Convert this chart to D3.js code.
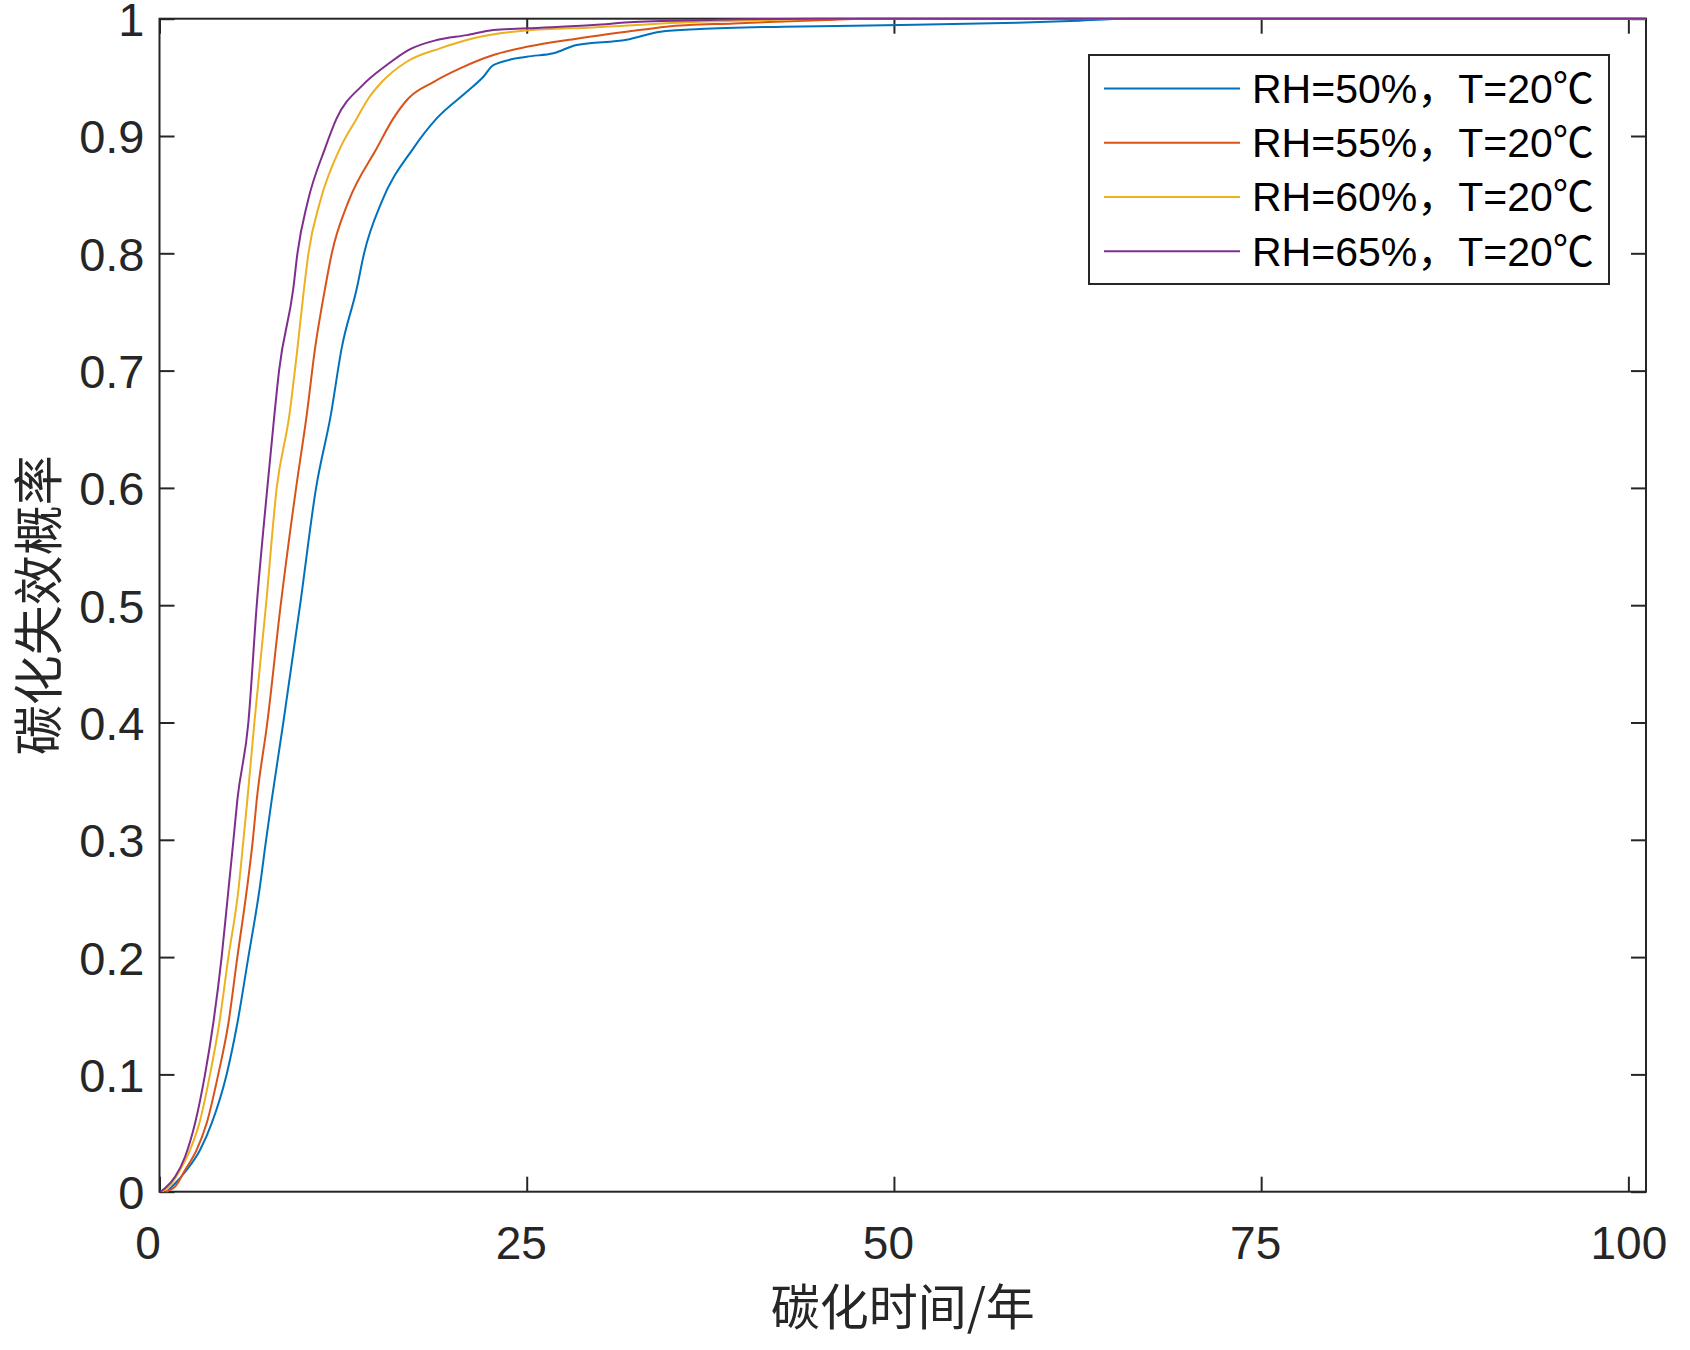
<!DOCTYPE html>
<html>
<head>
<meta charset="utf-8">
<script src="https://cdn.jsdelivr.net/npm/d3@7"></script>
<style>
  html, body { margin: 0; padding: 0; background: #fff; }
  svg { display: block; }
</style>
</head>
<body>
<svg id="chart" width="1690" height="1350"></svg>
<script>
// ---- data ----
const seriesNames = ["RH=50%，T=20℃", "RH=55%，T=20℃", "RH=60%，T=20℃", "RH=65%，T=20℃"];
const seriesColors = ["#0072BD", "#D95319", "#EDB120", "#7E2F8E"];

const rh50_x = [0.5,1.06,1.85,2.76,3.55,4.57,5.3,6.05,6.8,7.25,7.64,8.43,9.57,10.66,11.66,12.4,13.43,13.93,15.13,17.28,18.87,20.92,22.05,22.73,25,26.82,28.4,31.8,34.1,36.8,42.5,50.4,58.4,62,66,101.2];
const rh50_p = [0,0.007,0.0185,0.0356,0.0583,0.1,0.1436,0.2,0.257,0.2993,0.334,0.4,0.5,0.6,0.662,0.719,0.770,0.80,0.844,0.8895,0.915,0.9377,0.9505,0.9605,0.9676,0.9705,0.9776,0.982,0.9889,0.9912,0.9932,0.9946,0.9966,0.998,1,1];

const rh55_x = [0.4,1.06,1.74,2.53,3.21,4.0,4.69,5.3,5.94,6.35,6.62,7.34,8.25,9.3,10.02,10.59,11.27,11.73,12.86,14.79,15.92,16.94,18.65,20.46,22.73,25,28.4,31.8,34.5,39.1,45.4,48,101.2];
const rh55_p = [0,0.0043,0.0185,0.0356,0.0583,0.1,0.1436,0.2,0.257,0.2993,0.334,0.4,0.5,0.6,0.662,0.719,0.770,0.80,0.844,0.8895,0.915,0.932,0.946,0.9576,0.969,0.976,0.983,0.9889,0.9932,0.996,0.9989,1,1];

const rh60_x = [0.2,0.83,1.4,2.08,2.71,3.44,4.07,4.69,5.37,5.71,5.98,6.46,7.25,7.98,8.84,9.39,9.84,10.14,10.93,12.29,13.43,14.22,15.13,16.83,19.1,20.92,23.19,25,29.5,36,42,45,101.2];
const rh60_p = [0,0.0071,0.0185,0.0356,0.0583,0.1,0.1436,0.2,0.257,0.2993,0.334,0.4,0.5,0.6,0.662,0.719,0.770,0.80,0.844,0.8895,0.915,0.932,0.946,0.9633,0.9747,0.9818,0.9875,0.990,0.9926,0.997,0.999,1,1];

const rh65_x = [0.05,0.37,1.06,1.74,2.42,3.1,3.66,4.23,4.69,5.03,5.3,6.05,6.62,7.34,7.82,8.14,9.11,9.39,10.09,11.27,12.06,13.83,15.47,16.94,18.87,20.92,22.73,25,29.54,32.3,38,44.75,101.2];
const rh65_p = [0,0.003,0.0128,0.0298,0.0583,0.1,0.1436,0.2,0.257,0.2993,0.334,0.4,0.5,0.6,0.662,0.70,0.770,0.80,0.844,0.8895,0.915,0.9434,0.9605,0.9733,0.9818,0.986,0.9903,0.9918,0.9946,0.9971,0.999,1,1];

const xTicks = [0, 25, 50, 75, 100];
const yTicks = [0, 0.1, 0.2, 0.3, 0.4, 0.5, 0.6, 0.7, 0.8, 0.9, 1];
const xTitle = "碳化时间/年";
const yTitle = "碳化失效概率";

// ---- layout ----
const svg = d3.select("#chart");
const L = 159.5, R = 1646, T = 18.7, B = 1191.7;
const axisColor = "#262626";
const tickFont = "'Liberation Sans', Arial, Helvetica, sans-serif";
const cjkFont = "'Noto Sans CJK SC', 'Noto Sans CJK JP', sans-serif";

const x = d3.scaleLinear().domain([0, 101.2]).range([L, R]);
const y = d3.scaleLinear().domain([0, 1]).range([B, T]);

const series = [
  { xs: rh50_x, ps: rh50_p },
  { xs: rh55_x, ps: rh55_p },
  { xs: rh60_x, ps: rh60_p },
  { xs: rh65_x, ps: rh65_p }
].map((s, i) => ({
  name: seriesNames[i],
  color: seriesColors[i],
  pts: s.xs.map((v, j) => [v, s.ps[j]])
}));

// axes using d3 axis generators (ticks inward)
const tickLen = 15;
const gx = svg.append("g").attr("transform", `translate(0,${B})`)
  .call(d3.axisBottom(x).tickValues(xTicks).tickSize(-tickLen).tickPadding(35).tickFormat(d3.format("d")));
const gxTop = svg.append("g").attr("transform", `translate(0,${T})`)
  .call(d3.axisTop(x).tickValues(xTicks).tickSize(-tickLen).tickFormat(""));
const gy = svg.append("g").attr("transform", `translate(${L},0)`)
  .call(d3.axisLeft(y).tickValues(yTicks).tickSize(-tickLen).tickPadding(15).tickFormat(d => d === 0 || d === 1 ? d3.format("d")(d) : d3.format(".1f")(d)));
const gyR = svg.append("g").attr("transform", `translate(${R},0)`)
  .call(d3.axisRight(y).tickValues(yTicks).tickSize(-tickLen).tickFormat(""));

[gx, gxTop, gy, gyR].forEach(g => {
  g.select(".domain").remove();
  g.selectAll(".tick line").attr("stroke", axisColor).attr("stroke-width", 2);
  g.selectAll(".tick text").attr("fill", "#262626")
    .style("font-family", tickFont).style("font-size", "46px");
});
gx.selectAll(".tick text").attr("dy", "0.71em").attr("dx", d => d === 0 ? -12 : (d === 100 ? 0 : -6));
gy.selectAll(".tick text").attr("dy", "0.36em").style("font-size", "47px");

// lines
const line = d3.line().x(d => x(d[0])).y(d => y(d[1])).curve(d3.curveMonotoneX);

// frame
svg.append("rect")
  .attr("x", L).attr("y", T).attr("width", R - L).attr("height", B - T)
  .attr("fill", "none").attr("stroke", axisColor).attr("stroke-width", 2);

svg.append("g").selectAll("path").data(series).join("path")
  .attr("d", d => line(d.pts))
  .attr("fill", "none")
  .attr("stroke", d => d.color)
  .attr("stroke-width", 2)
  .attr("stroke-linejoin", "round");

// axis titles
svg.append("text")
  .attr("x", (L + R) / 2).attr("y", 1325)
  .attr("text-anchor", "middle")
  .attr("fill", "#262626")
  .style("font-family", cjkFont).style("font-size", "49px")
  .text(xTitle);

svg.append("text")
  .attr("transform", `translate(57,${(T + B) / 2}) rotate(-90)`)
  .attr("text-anchor", "middle")
  .attr("fill", "#262626")
  .style("font-family", cjkFont).style("font-size", "50px")
  .text(yTitle);

// legend
const lg = svg.append("g");
lg.append("rect")
  .attr("x", 1089).attr("y", 55).attr("width", 520).attr("height", 229)
  .attr("fill", "#fff").attr("stroke", axisColor).attr("stroke-width", 2);
const rows = lg.selectAll("g.row").data(series).join("g")
  .attr("class", "row")
  .attr("transform", (d, i) => `translate(0,${88.4 + i * 54.3})`);
rows.append("line")
  .attr("x1", 1104).attr("x2", 1240).attr("y1", 0).attr("y2", 0)
  .attr("stroke", d => d.color).attr("stroke-width", 2);
rows.append("text")
  .attr("x", 1252).attr("y", 0).attr("dy", "0.35em")
  .attr("fill", "#000")
  .style("font-family", "'Liberation Sans', Arial, 'Noto Sans CJK SC', sans-serif")
  .style("font-size", "41px")
  .text(d => d.name);
</script>
</body>
</html>
